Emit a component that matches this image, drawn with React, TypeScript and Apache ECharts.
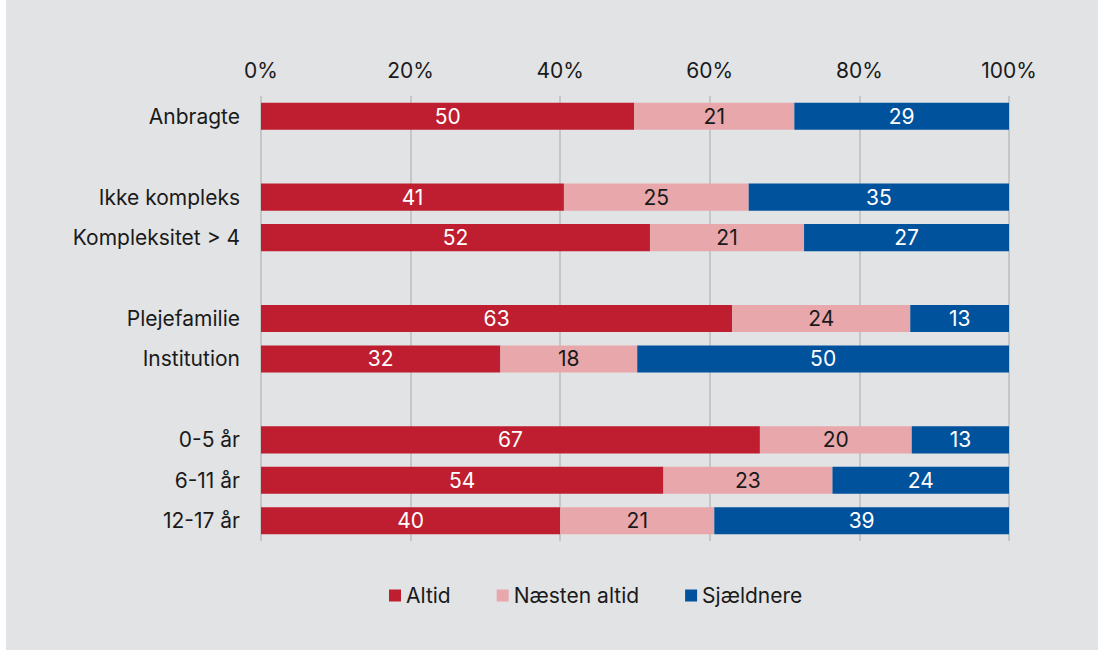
import React, { useEffect, useRef } from "react";
import * as echarts from "echarts";

const categories = [
  "Anbragte",
  " ",
  "Ikke kompleks",
  "Kompleksitet > 4",
  "  ",
  "Plejefamilie",
  "Institution",
  "   ",
  "0-5 år",
  "6-11 år",
  "12-17 år",
];

const altid = [49.9, null, 40.5, 52.0, null, 63.0, 32.0, null, 66.7, 53.8, 40.0];
const naestenAltid = [21.4, null, 24.7, 20.6, null, 23.8, 18.3, null, 20.3, 22.6, 20.6];
const sjaeldnere = [28.7, null, 34.8, 27.4, null, 13.2, 49.7, null, 13.0, 23.6, 39.4];

const xTicks = [0, 20, 40, 60, 80, 100];

const FONT = "Inter, 'Noto Sans', sans-serif";
const FS = 21;

export default function App() {
  const ref = useRef<HTMLDivElement>(null);
  useEffect(() => {
    if (!ref.current) return;
    const chart = echarts.init(ref.current, null, { renderer: "svg" });
    const mkSeries = (name: string, data: (number | null)[], color: string, labelColor: string) => ({
      name,
      type: "bar",
      stack: "total",
      data,
      barCategoryGap: "33%",
      itemStyle: { color },
      label: {
        show: true,
        position: "inside",
        color: labelColor,
        fontFamily: FONT,
        fontSize: FS,
        formatter: (p: any) => (p.value == null ? "" : String(Math.round(p.value))),
      },
    });
    chart.setOption({
      animation: false,
      backgroundColor: "#e2e3e5",
      textStyle: { fontFamily: FONT },
      grid: { left: 255, right: 89, top: 96, bottom: 109, containLabel: false },
      legend: {
        left: 383,
        top: 585,
        padding: 0,
        icon: "rect",
        itemWidth: 12,
        itemHeight: 12,
        itemGap: 46,
        textStyle: { fontFamily: FONT, fontSize: FS, color: "#1a1a1a" },
        data: ["Altid", "Næsten altid", "Sjældnere"],
      },
      xAxis: {
        type: "value",
        position: "top",
        min: xTicks[0],
        max: xTicks[xTicks.length - 1],
        interval: 20,
        axisLine: { show: false },
        axisTick: { show: false },
        axisLabel: {
          formatter: "{value}%",
          fontFamily: FONT,
          fontSize: FS,
          color: "#1a1a1a",
          margin: 15,
        },
        splitLine: { show: true, lineStyle: { color: "#c5c6c8", width: 2 } },
      },
      yAxis: {
        type: "category",
        inverse: true,
        data: categories,
        axisLine: { show: false },
        axisTick: { show: false },
        axisLabel: { fontFamily: FONT, fontSize: FS, color: "#1a1a1a", margin: 21 },
        splitLine: { show: false },
      },
      series: [
        mkSeries("Altid", altid, "#be1e2f", "#ffffff"),
        mkSeries("Næsten altid", naestenAltid, "#e8a7ab", "#1a1a1a"),
        mkSeries("Sjældnere", sjaeldnere, "#00529c", "#ffffff"),
      ],
    });
    return () => chart.dispose();
  }, []);
  return (
    <div style={{ position: "fixed", left: 0, top: 0, width: 1098, height: 650, background: "#ffffff" }}>
      <div ref={ref} style={{ position: "absolute", left: 6, top: 0, width: 1092, height: 650 }} />
    </div>
  );
}
